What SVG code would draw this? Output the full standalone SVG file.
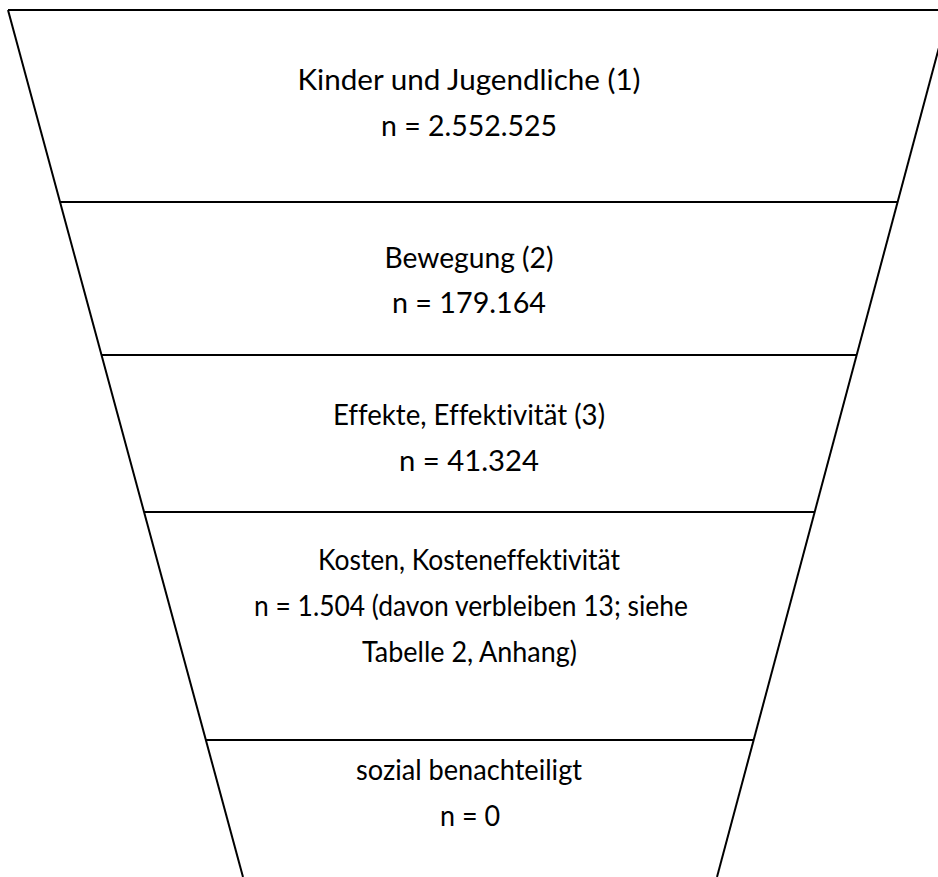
<svg xmlns="http://www.w3.org/2000/svg" width="938" height="877" viewBox="0 0 938 877">
<style>
.l{stroke:#000;stroke-width:2;fill:none;stroke-linecap:butt}
.t{font-family:Lato,"Open Sans","Liberation Sans",sans-serif;font-size:28.5px;fill:#000;text-anchor:middle;font-variant-ligatures:none}
</style>
<rect width="938" height="877" fill="#fff"/>
<g id="connectors">
<path class="l" d="M8,10 L950,10"/>
<path class="l" d="M8,10 L243,877"/>
<path class="l" d="M949,10 L717,877"/>
<path class="l" d="M60,202 L897.6,202"/>
<path class="l" d="M101.5,355 L856.7,355"/>
<path class="l" d="M144,512 L814.7,512"/>
<path class="l" d="M205.8,740 L753.6,740"/>
</g>
<g id="n1"><text class="t" x="469" y="90" textLength="343" lengthAdjust="spacingAndGlyphs">Kinder und Jugendliche (1)</text><text class="t" x="469" y="136" textLength="176" lengthAdjust="spacingAndGlyphs">n = 2.552.525</text></g>
<g id="n2"><text class="t" x="469" y="268" textLength="169" lengthAdjust="spacingAndGlyphs">Bewegung (2)</text><text class="t" x="469" y="313" textLength="154" lengthAdjust="spacingAndGlyphs">n = 179.164</text></g>
<g id="n3"><text class="t" x="469" y="425" textLength="272" lengthAdjust="spacingAndGlyphs">Effekte, Effektivität (3)</text><text class="t" x="469" y="471" textLength="140" lengthAdjust="spacingAndGlyphs">n = 41.324</text></g>
<g id="n4"><text class="t" x="469" y="570" textLength="302" lengthAdjust="spacingAndGlyphs">Kosten, Kosteneffektivität</text><text class="t" x="471" y="616" textLength="434" lengthAdjust="spacingAndGlyphs">n = 1.504 (davon verbleiben 13; siehe</text><text class="t" x="469.5" y="662" textLength="215" lengthAdjust="spacingAndGlyphs">Tabelle 2, Anhang)</text></g>
<g id="n5"><text class="t" x="469" y="780" textLength="226" lengthAdjust="spacingAndGlyphs">sozial benachteiligt</text><text class="t" x="470" y="826" textLength="60" lengthAdjust="spacingAndGlyphs">n = 0</text></g>
</svg>
